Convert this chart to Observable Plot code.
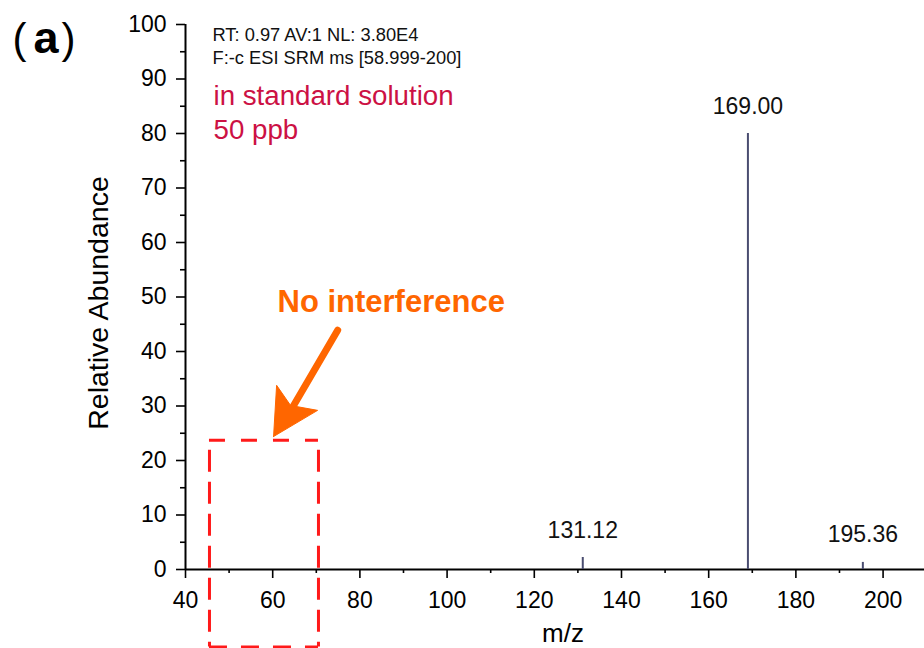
<!DOCTYPE html>
<html>
<head>
<meta charset="utf-8">
<script src="https://cdn.jsdelivr.net/npm/d3@7"></script>
<script src="https://cdn.jsdelivr.net/npm/@observablehq/plot@0.6"></script>
<style>
  html, body { margin: 0; padding: 0; background: #fff; }
</style>
</head>
<body>
<div id="chart"></div>
<script>
// ---- data ----
const mzValues = [131.12, 169.00, 195.36];
const abundanceValues = [2.2, 80, 1.3];
const peakLabels = ["131.12", "169.00", "195.36"];

const xTicks = [40, 60, 80, 100, 120, 140, 160, 180, 200];
const xMinorTicks = [50, 70, 90, 110, 130, 150, 170, 190];
const yTicks = [0, 10, 20, 30, 40, 50, 60, 70, 80, 90, 100];
const yMinorTicks = [5, 15, 25, 35, 45, 55, 65, 75, 85, 95];

const headerLines = ["RT: 0.97 AV:1 NL: 3.80E4", "F:-c ESI SRM ms [58.999-200]"];
const noteLines = ["in standard solution", "50 ppb"];
const annotationText = "No interference";

// highlighted region (m/z, relative abundance)
const boxX = [45.5, 70.5];
const boxY = [-14.2, 23.7];
// arrow pointing at region (m/z, relative abundance)
const arrowShaftX = [74.9, 64.6];
const arrowShaftY = [43.9, 29.8];
const arrowHeadX = [60.2, 60.9, 64.1, 70.3, 60.2];
const arrowHeadY = [24.4, 33.8, 30.1, 29.2, 24.4];

// ---- build tables ----
const peaks = mzValues.map((m, i) => ({mz: m, ab: abundanceValues[i], label: peakLabels[i]}));
const shaft = arrowShaftX.map((x, i) => ({x, y: arrowShaftY[i]}));
const head = arrowHeadX.map((x, i) => ({x, y: arrowHeadY[i]}));

const font = "Arial, 'Liberation Sans', Helvetica, sans-serif";
const orange = "#ff6600";
const boxRed = "#ff1a1a";
const one = [0];

const chart = Plot.plot({
  width: 924,
  height: 648,
  marginLeft: 185,
  marginRight: 0,
  marginTop: 24,
  marginBottom: 79,
  x: {domain: [40, 209.5]},
  y: {domain: [0, 100]},
  style: {fontFamily: font, fontSize: "23px", color: "#000", background: "#fff", overflow: "visible"},
  marks: [
    // axes
    Plot.axisY({ticks: yTicks, tickSize: 9, tickPadding: 10, label: null, fontSize: 23, strokeWidth: 1.6}),
    Plot.axisY({ticks: yMinorTicks, tickSize: 5, tickFormat: () => "", label: null, strokeWidth: 1.6}),
    Plot.axisX({ticks: xTicks, tickSize: 9, tickPadding: 13, label: null, fontSize: 23, strokeWidth: 1.6}),
    Plot.axisX({ticks: xMinorTicks, tickSize: 4, tickFormat: () => "", label: null, strokeWidth: 1.6}),
    Plot.ruleX([40], {y1: 0, y2: 100, stroke: "#000", strokeWidth: 2}),
    Plot.ruleY([0], {stroke: "#000", strokeWidth: 2}),

    // peaks
    Plot.ruleX(peaks, {x: "mz", y1: 0, y2: "ab", stroke: "#4a4d70", strokeWidth: 2}),
    Plot.text(peaks, {x: "mz", y: "ab", text: "label", dy: -20, lineAnchor: "bottom", fontSize: 23, fill: "#111"}),

    // axis labels
    Plot.text(one, {frameAnchor: "left", text: () => "Relative Abundance", rotate: -90, dx: -87, dy: 6,
      textAnchor: "middle", lineAnchor: "middle", fontSize: 28.5, fill: "#000"}),
    Plot.text(one, {frameAnchor: "bottom", text: () => "m/z", dx: 8, dy: 72, lineAnchor: "bottom",
      textAnchor: "middle", fontSize: 26, fill: "#000"}),

    // header
    Plot.text(one, {frameAnchor: "top-left", text: () => headerLines[0], dx: 27, dy: 16, lineAnchor: "bottom",
      textAnchor: "start", fontSize: 18.3, fill: "#111"}),
    Plot.text(one, {frameAnchor: "top-left", text: () => headerLines[1], dx: 27, dy: 39, lineAnchor: "bottom",
      textAnchor: "start", fontSize: 18.3, fill: "#111"}),
    Plot.text(one, {frameAnchor: "top-left", text: () => noteLines[0], dx: 28, dy: 80, lineAnchor: "bottom",
      textAnchor: "start", fontSize: 27.7, fill: "#cc1144"}),
    Plot.text(one, {frameAnchor: "top-left", text: () => noteLines[1], dx: 28, dy: 114, lineAnchor: "bottom",
      textAnchor: "start", fontSize: 27.7, fill: "#cc1144"}),

    // panel tag
    Plot.text(one, {frameAnchor: "top-left", text: () => "(", dx: -173, dy: 28, lineAnchor: "bottom",
      textAnchor: "start", fontSize: 42, fill: "#000"}),
    Plot.text(one, {frameAnchor: "top-left", text: () => "a", dx: -152, dy: 28, lineAnchor: "bottom",
      textAnchor: "start", fontSize: 45, fontWeight: "bold", fill: "#000"}),
    Plot.text(one, {frameAnchor: "top-left", text: () => ")", dx: -124, dy: 28, lineAnchor: "bottom",
      textAnchor: "start", fontSize: 42, fill: "#000"}),

    // annotation
    Plot.text(one, {frameAnchor: "top-left", text: () => annotationText, dx: 92, dy: 287, lineAnchor: "bottom",
      textAnchor: "start", fontSize: 31, fontWeight: "bold", fill: orange}),
    Plot.line(shaft, {x: "x", y: "y", stroke: orange, strokeWidth: 7}),
    Plot.line(head, {x: "x", y: "y", fill: orange, stroke: orange, strokeWidth: 1}),

    // dashed box (four edges)
    Plot.ruleY([boxY[1]], {x1: boxX[0], x2: boxX[1], stroke: boxRed, strokeWidth: 3, strokeDasharray: "16,16"}),
    Plot.ruleY([boxY[0]], {x1: boxX[0], x2: boxX[1], stroke: boxRed, strokeWidth: 3, strokeDasharray: "18,14"}),
    Plot.ruleX([boxX[0]], {y1: boxY[1], y2: boxY[0], stroke: boxRed, strokeWidth: 3, strokeDasharray: "22,10", strokeDashoffset: 22}),
    Plot.ruleX([boxX[1]], {y1: boxY[1], y2: boxY[0], stroke: boxRed, strokeWidth: 3, strokeDasharray: "22,10", strokeDashoffset: 22})
  ]
});

document.getElementById("chart").append(chart);
</script>
</body>
</html>
